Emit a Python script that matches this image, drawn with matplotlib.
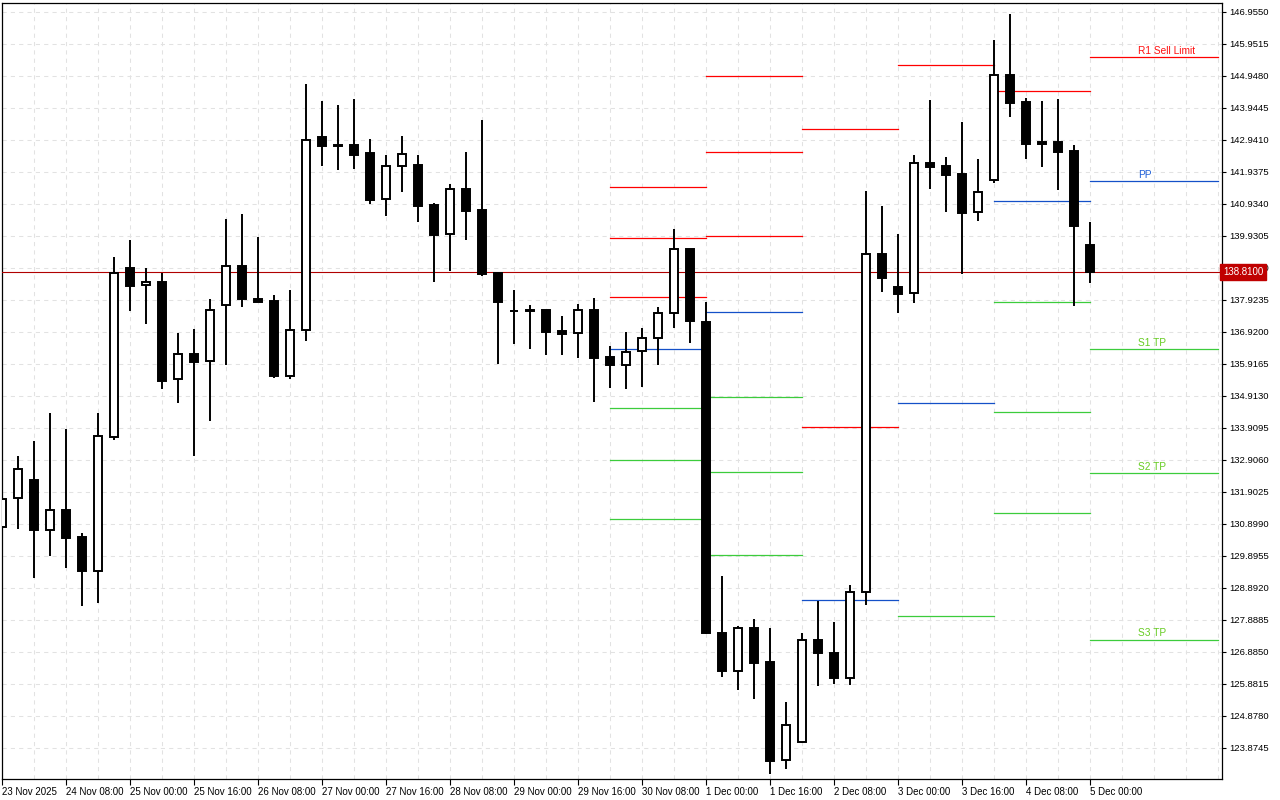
import numpy as np
import matplotlib.pyplot as plt
from matplotlib.patches import Rectangle

plt.rcParams['font.family'] = ['Liberation Sans', 'DejaVu Sans']

# 4h bars, first bar 23 Nov 16:00, last bar 5 Dec 00:00
opens = [130.789, 131.699, 132.273, 130.695, 131.322, 130.484, 129.427, 133.631, 138.914, 138.381,
         138.484, 135.432, 136.226, 135.997, 137.754, 138.986, 137.951, 137.888, 135.526, 136.969,
         143.034, 142.783, 142.783, 142.532, 141.079, 142.114, 142.155, 140.900, 139.981, 141.402,
         140.743, 138.767, 137.584, 137.606, 137.600, 136.947, 136.875, 137.606, 136.122, 135.890,
         136.307, 136.740, 137.506, 139.510, 137.217, 127.485, 126.274, 127.614, 126.547, 123.492,
         124.053, 127.253, 126.852, 126.058, 128.768, 139.363, 138.328, 138.130, 142.218, 142.124,
         141.873, 140.671, 141.694, 144.969, 144.122, 142.867, 142.867, 142.594, 139.645]
highs = [131.771, 133.026, 133.496, 134.375, 133.873, 130.610, 134.375, 139.269, 139.802, 138.924,
         138.767, 136.884, 137.010, 137.951, 140.461, 140.618, 139.896, 138.077, 138.234, 144.696,
         144.163, 144.037, 144.226, 142.971, 142.469, 143.065, 142.469, 140.954, 141.559, 142.563,
         143.567, 138.808, 138.234, 137.763, 137.606, 137.418, 137.794, 137.973, 136.467, 136.916,
         137.029, 137.694, 140.144, 139.520, 137.851, 129.245, 127.702, 127.903, 127.642, 125.292,
         127.457, 128.477, 127.802, 128.969, 141.339, 140.869, 139.990, 142.469, 144.194, 142.406,
         143.504, 142.343, 146.077, 146.892, 144.248, 144.163, 144.226, 142.783, 140.367]
lows = [130.673, 130.745, 129.208, 129.898, 129.521, 128.329, 128.423, 133.537, 137.584, 137.176,
        135.137, 134.698, 133.035, 134.133, 135.890, 137.710, 137.848, 135.482, 135.432, 136.643,
        142.133, 141.998, 142.030, 140.941, 140.564, 141.317, 140.376, 138.494, 138.839, 139.812,
        138.682, 135.921, 136.549, 136.392, 136.204, 136.204, 136.110, 134.729, 135.168, 135.140,
        135.200, 135.890, 137.041, 136.583, 127.429, 126.086, 125.684, 125.396, 123.043, 123.206,
        124.037, 125.813, 125.885, 125.841, 128.351, 138.180, 137.521, 137.835, 141.412, 140.690,
        138.745, 140.408, 141.600, 143.670, 142.353, 142.102, 141.380, 137.741, 138.462]
closes = [131.667, 132.608, 130.714, 131.322, 130.463, 129.427, 133.644, 138.757, 138.368, 138.475,
          135.388, 136.216, 135.984, 137.597, 138.977, 137.961, 137.866, 135.535, 136.979, 142.930,
          142.761, 142.764, 142.478, 141.066, 142.114, 142.491, 140.878, 139.968, 141.393, 140.721,
          138.745, 137.866, 137.575, 137.559, 136.925, 136.863, 137.606, 136.110, 135.890, 136.295,
          136.740, 137.506, 139.510, 137.274, 127.473, 126.274, 127.630, 126.519, 123.448, 124.574,
          127.253, 126.852, 126.058, 128.768, 139.350, 138.619, 138.117, 142.208, 142.102, 141.851,
          140.659, 141.299, 144.969, 144.110, 142.823, 142.823, 142.572, 140.251, 138.81]

time_labels = ['23 Nov 2025', '24 Nov 08:00', '25 Nov 00:00', '25 Nov 16:00', '26 Nov 08:00',
               '27 Nov 00:00', '27 Nov 16:00', '28 Nov 08:00', '29 Nov 00:00', '29 Nov 16:00',
               '30 Nov 08:00', '1 Dec 00:00', '1 Dec 16:00', '2 Dec 08:00', '3 Dec 00:00',
               '3 Dec 16:00', '4 Dec 08:00', '5 Dec 00:00']
price_ticks = ['146.9550', '145.9515', '144.9480', '143.9445', '142.9410', '141.9375', '140.9340',
               '139.9305', '138.9270', '137.9235', '136.9200', '135.9165', '134.9130', '133.9095',
               '132.9060', '131.9025', '130.8990', '129.8955', '128.8920', '127.8885', '126.8850',
               '125.8815', '124.8780', '123.8745']

# daily pivot segments (bar index where the day starts / ends)
seg_start = [38, 44, 50, 56, 62]
seg_end = [44, 50, 56, 62, 68]
res_levels = [[141.465, 139.855, 138.004], [144.944, 142.550, 139.918], [143.284, 133.929],
              [145.283], [144.477]]
pp_levels = [136.373, 137.534, 128.495, 134.673, 141.016]
sup_levels = [[134.522, 132.891, 131.040], [134.889, 132.517, 129.907], [], [128.015],
              [137.848, 134.397, 131.228]]

# current day levels with labels
cur_start, cur_end = 68, 76
cur_names = ['R1 Sell Limit', 'PP', 'S1 TP', 'S2 TP', 'S3 TP']
cur_levels = [145.534, 141.644, 136.373, 132.483, 127.253]
cur_kinds = ['r', 'p', 's', 's', 's']

last_price = 138.81

RED = '#ff0000'
BLUE = '#1450c8'
GREEN = '#3ccc3c'
line_col = {'r': RED, 'p': BLUE, 's': GREEN}
text_col = {'r': '#ff1010', 'p': '#2060d8', 's': '#66cc22'}

fig = plt.figure(figsize=(12.8, 8), dpi=100)
ax = fig.add_axes([2 / 1280, 21 / 800, 1220 / 1280, 776 / 800])
ax.set_xlim(0, 76.25)
ax.set_ylim(122.892, 147.237)

# grid
ax.set_yticks([float(t) for t in price_ticks])
ax.set_yticklabels(price_ticks)
ax.set_xticks(range(0, 69, 4))
ax.set_xticklabels(time_labels, ha='left')
for g in range(0, 77, 2):
    ax.axvline(g, color='#e2e2e2', lw=0.75, ls=(0, (4, 4)), zorder=0)
for t in price_ticks:
    ax.axhline(float(t), color='#e2e2e2', lw=0.75, ls=(0, (4, 4)), zorder=0)

# pivot segments
for i in range(len(seg_start)):
    x0, x1 = seg_start[i], seg_end[i]
    for v in res_levels[i]:
        ax.plot([x0, x1], [v, v], color=RED, lw=0.9, zorder=2)
    ax.plot([x0, x1], [pp_levels[i], pp_levels[i]], color=BLUE, lw=0.9, zorder=2)
    for v in sup_levels[i]:
        ax.plot([x0, x1], [v, v], color=GREEN, lw=0.9, zorder=2)

for name, v, k in zip(cur_names, cur_levels, cur_kinds):
    ax.plot([cur_start, cur_end], [v, v], color=line_col[k], lw=0.9, zorder=2)
    ax.annotate(name, (71, v), xytext=(0, 1.2), textcoords='offset points',
                ha='left', va='bottom', fontsize=7.3, color=text_col[k])

# last price line
ax.axhline(last_price, color='#b00000', lw=0.8, zorder=3)

# candles
w = 0.55
for i, (o, h, l, c) in enumerate(zip(opens, highs, lows, closes)):
    ax.plot([i, i], [l, h], color='black', lw=1.4, zorder=4, solid_capstyle='butt')
    lo, hi = min(o, c), max(o, c)
    face = 'white' if c > o else 'black'
    ax.add_patch(Rectangle((i - w / 2, lo), w, hi - lo, facecolor=face,
                           edgecolor='black', lw=1.4, zorder=5))

# axes styling
ax.yaxis.tick_right()
ax.tick_params(axis='y', which='major', length=3, width=0.8, pad=2, labelsize=6.8, colors='black')
ax.tick_params(axis='x', which='major', length=4, width=0.8, pad=2, labelsize=7)
for s in ax.spines.values():
    s.set_color('black')
    s.set_linewidth(0.9)

# price tag covers the 138.9270 label like in the terminal
ax.text(1.001, last_price, '138.8100', transform=ax.get_yaxis_transform(),
        ha='left', va='center', fontsize=7, color='white', zorder=10, clip_on=False,
        bbox=dict(boxstyle='square,pad=0.3', facecolor='#c00000', edgecolor='#c00000'))

fig.savefig('out.png', dpi=100, facecolor='white')
